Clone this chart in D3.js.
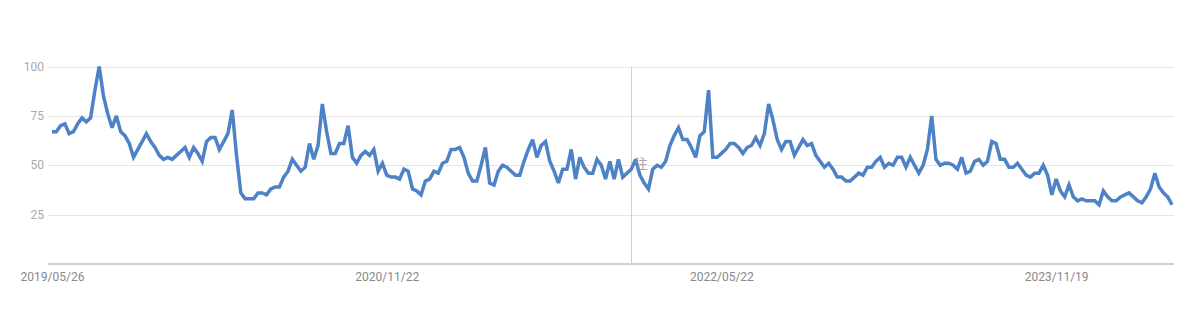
<!DOCTYPE html>
<html>
<head>
<meta charset="utf-8">
<script src="https://cdn.jsdelivr.net/npm/d3@7"></script>
<style>
  html, body { margin: 0; padding: 0; background: #fff; }
  svg { display: block; font-family: Roboto, Arial, sans-serif; }
</style>
</head>
<body>
<svg id="chart" width="1200" height="311"></svg>
<script>
// weekly interest, 2019/05/26 .. 2024/05
const startDate = '2019-05-26'
const values = [
  67, 67, 70, 71, 66, 67, 71, 74, 72, 74, 88, 100, 85, 76, 69, 75, 67, 65, 61, 54,
  58, 62, 66, 62, 59, 55, 53, 54, 53, 55, 57, 59, 54, 59, 56, 52, 62, 64, 64, 58,
  62, 66, 78, 55, 36, 33, 33, 33, 36, 36, 35, 38, 39, 39, 44, 47, 53, 50, 47, 49,
  61, 53, 60, 81, 67, 56, 56, 61, 61, 70, 54, 51, 55, 57, 55, 58, 47, 51, 45, 44,
  44, 43, 48, 47, 38, 37, 35, 42, 43, 47, 46, 51, 52, 58, 58, 59, 54, 46, 42, 42,
  50, 59, 41, 40, 47, 50, 49, 47, 45, 45, 52, 58, 63, 54, 60, 62, 52, 47, 41, 48,
  48, 58, 43, 54, 49, 46, 46, 53, 50, 43, 52, 43, 53, 44, 46, 48, 53, 45, 41, 38,
  48, 50, 49, 52, 60, 65, 69, 63, 63, 59, 54, 65, 67, 88, 54, 54, 56, 58, 61, 61,
  59, 56, 59, 60, 64, 60, 66, 81, 73, 63, 58, 62, 62, 55, 59, 63, 60, 61, 55, 52,
  49, 51, 48, 44, 44, 42, 42, 44, 46, 45, 49, 49, 52, 54, 49, 51, 50, 54, 54, 49,
  54, 50, 46, 50, 58, 75, 53, 50, 51, 51, 50, 48, 54, 46, 47, 52, 53, 50, 52, 62,
  61, 53, 53, 49, 49, 51, 48, 45, 44, 46, 46, 50, 45, 35, 43, 37, 34, 40, 34, 32,
  33, 32, 32, 32, 30, 37, 34, 32, 32, 34, 35, 36, 34, 32, 31, 34, 38, 46, 39, 36,
  34, 30
]
const yTicks = [25, 50, 75, 100]
const xTickLabels = ['2019/05/26', '2020/11/22', '2022/05/22', '2023/11/19']
const noteDate = '2021-12-26'
const noteLabel = '注'

const parse = d3.timeParse('%Y-%m-%d')
const parseTick = d3.timeParse('%Y/%m/%d')
const t0 = parse(startDate)
const data = values.map((v, i) => ({ date: d3.timeWeek.offset(t0, i), value: v }))

const svg = d3.select('#chart')
const plotLeft = 48, plotRight = 1174

const x = d3.scaleTime()
  .domain(d3.extent(data, d => d.date))
  .range([52, 1172])

const y = d3.scaleLinear()
  .domain([0, 100])
  .range([264, 66.5])

// grid
svg.append('g')
  .selectAll('line')
  .data(yTicks)
  .join('line')
  .attr('x1', plotLeft)
  .attr('x2', plotRight)
  .attr('y1', d => Math.round(y(d)) + 0.5)
  .attr('y2', d => Math.round(y(d)) + 0.5)
  .attr('stroke', '#e6e6e6')
  .attr('stroke-width', 1)

// y labels
svg.append('g')
  .selectAll('text')
  .data(yTicks)
  .join('text')
  .attr('x', 44)
  .attr('y', d => y(d))
  .attr('dy', '0.35em')
  .attr('text-anchor', 'end')
  .attr('fill', '#aaa')
  .attr('font-size', '12px')
  .text(d => d)

// baseline
svg.append('line')
  .attr('x1', plotLeft)
  .attr('x2', plotRight)
  .attr('y1', y(0))
  .attr('y2', y(0))
  .attr('stroke', '#cfcfcf')
  .attr('stroke-width', 2)

// x axis labels
const xAxis = d3.axisBottom(x)
  .tickValues(xTickLabels.map(s => parseTick(s)))
  .tickFormat(d3.timeFormat('%Y/%m/%d'))
  .tickSize(0)
  .tickPadding(8)

const gx = svg.append('g')
  .attr('transform', `translate(0,${y(0)})`)
  .call(xAxis)
gx.select('.domain').remove()
gx.selectAll('text')
  .attr('fill', '#888')
  .attr('font-size', '12px')
  .attr('font-family', 'Roboto, Arial, sans-serif')

// note marker
const nx = Math.round(x(parse(noteDate))) + 0.5
svg.append('line')
  .attr('x1', nx).attr('x2', nx)
  .attr('y1', y(100)).attr('y2', y(0))
  .attr('stroke', '#d0d0d0')
  .attr('stroke-width', 1)

// line
const line = d3.line()
  .x(d => x(d.date))
  .y(d => y(d.value))

svg.append('path')
  .datum(data)
  .attr('d', line)
  .attr('fill', 'none')
  .attr('stroke', '#4d82c6')
  .attr('stroke-width', 3.5)
  .attr('stroke-linejoin', 'miter')
  .attr('stroke-miterlimit', 3)

svg.append('text')
  .attr('x', nx + 3)
  .attr('y', y(48.5))
  .attr('fill', '#999')
  .attr('font-size', '13px')
  .attr('font-family', "'Noto Sans CJK JP', sans-serif")
  .attr('opacity', 0.85)
  .text(noteLabel)
</script>
</body>
</html>
